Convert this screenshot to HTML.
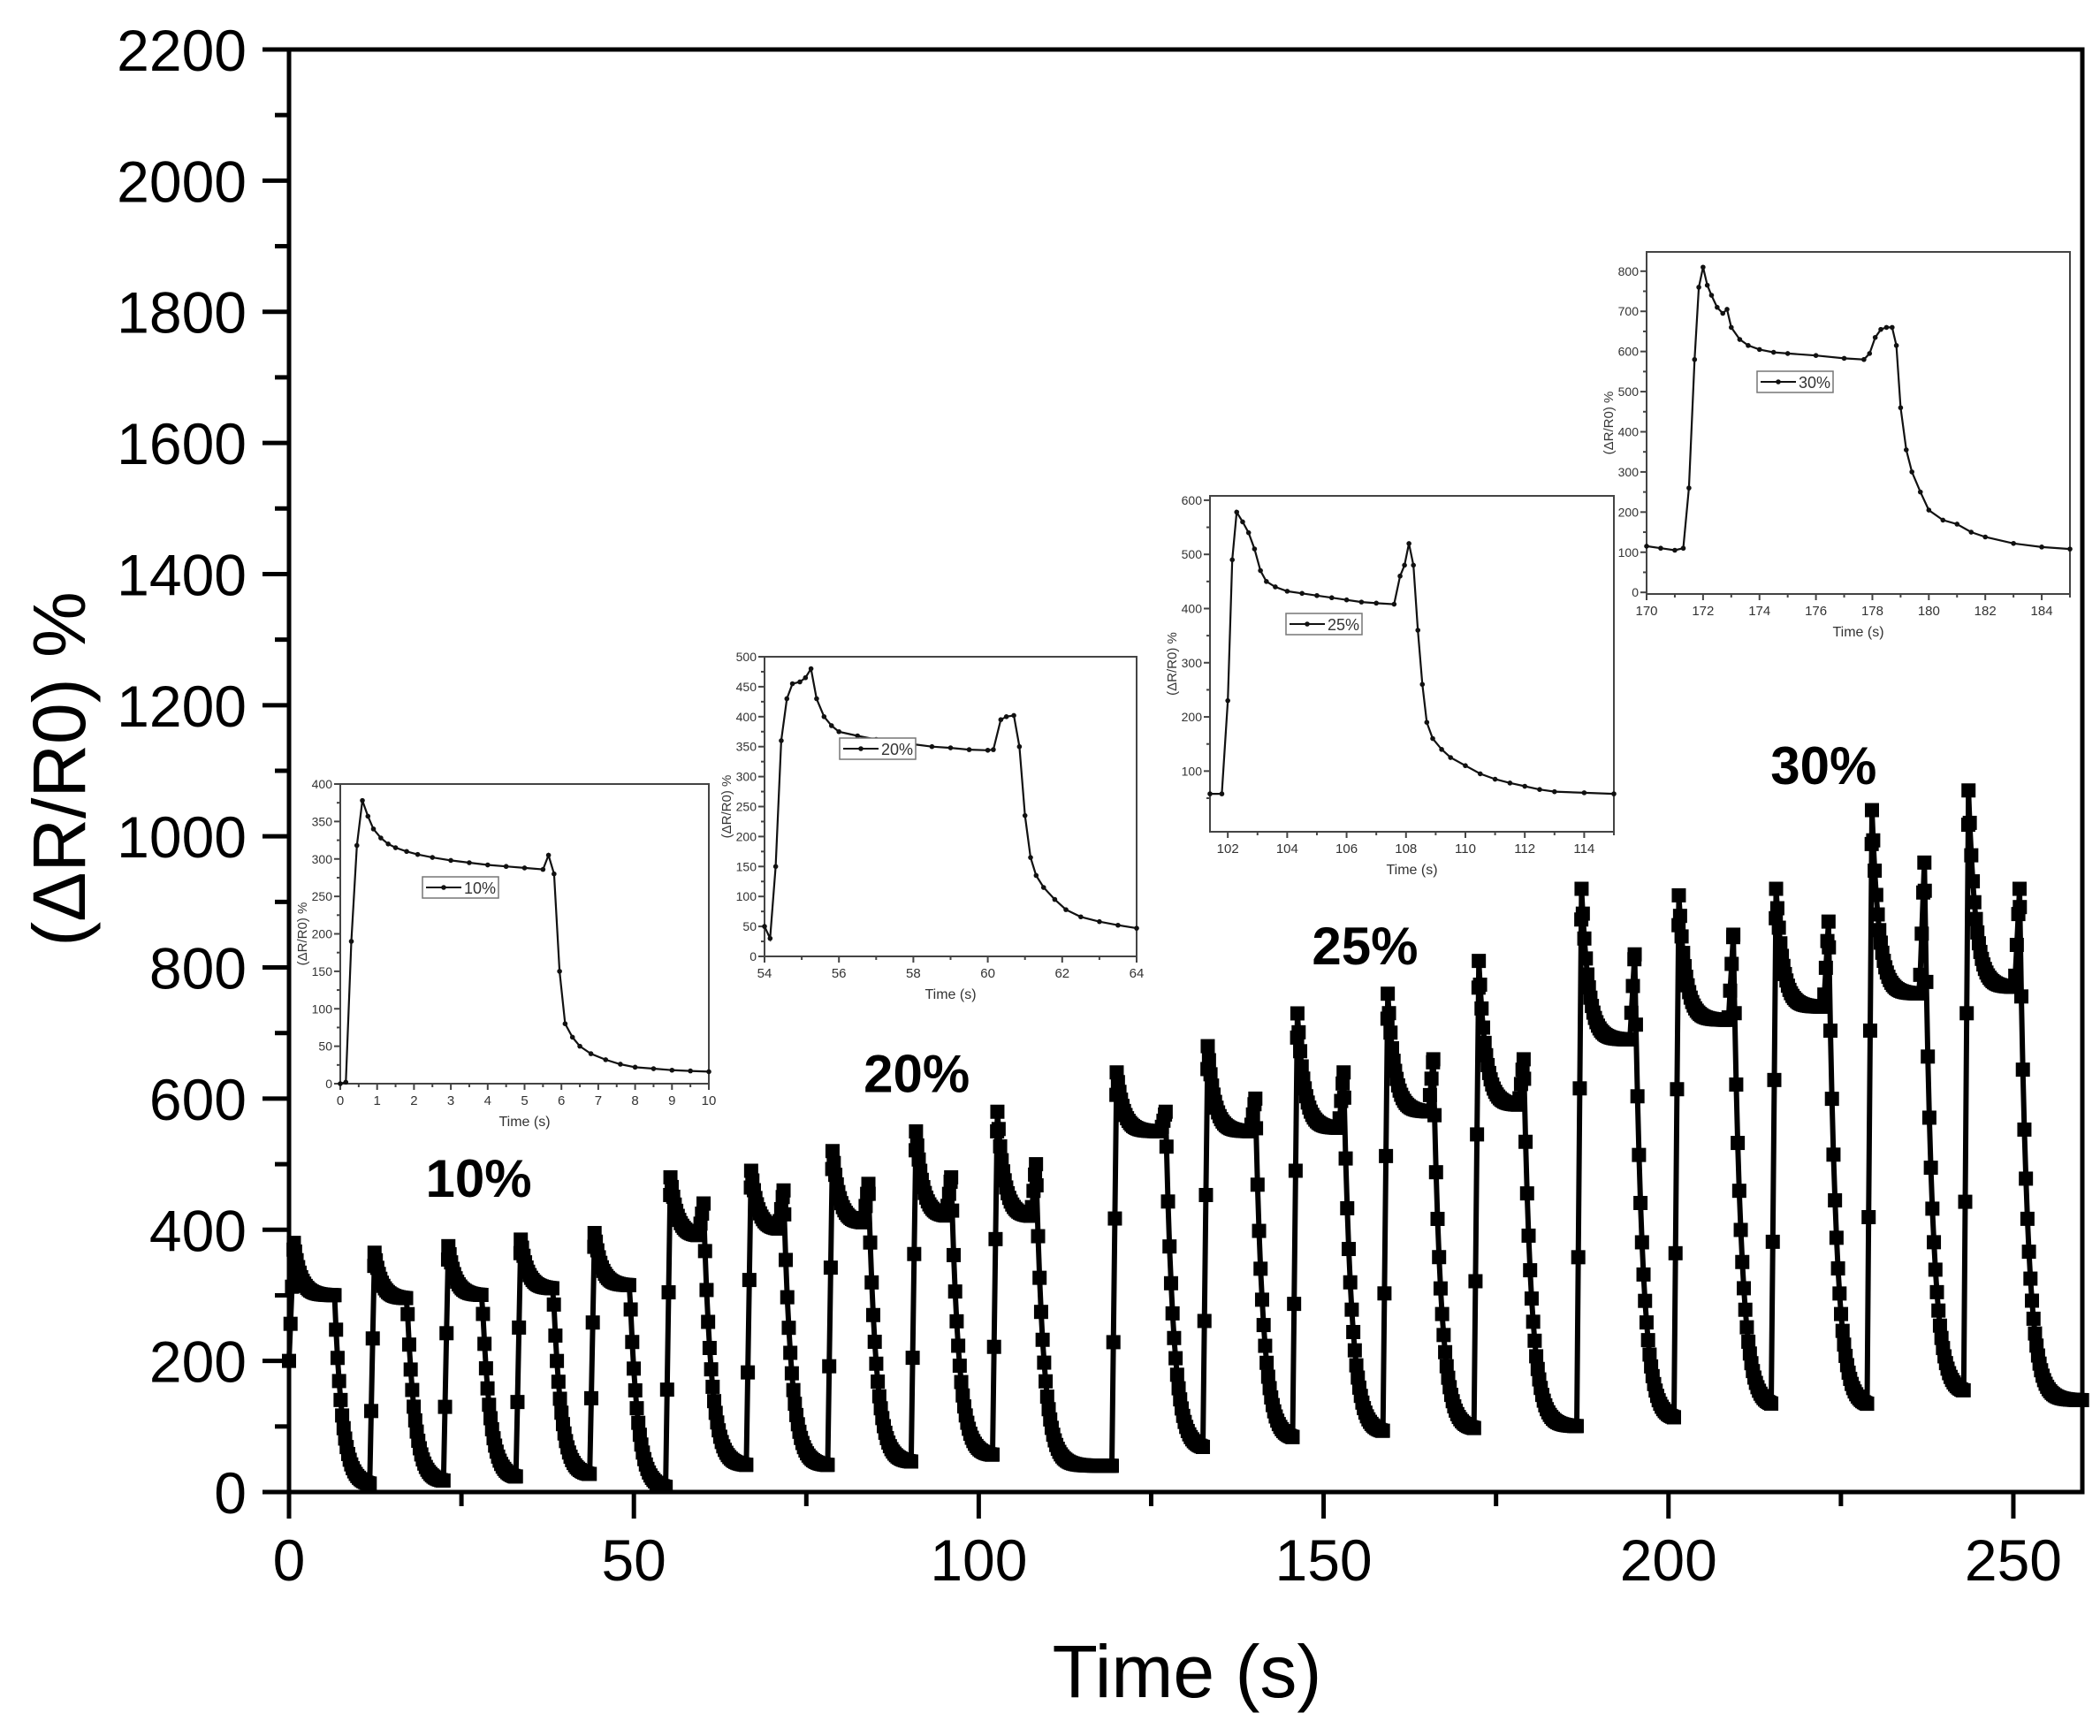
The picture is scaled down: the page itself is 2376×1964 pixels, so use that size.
<!DOCTYPE html>
<html><head><meta charset="utf-8"><style>
html,body{margin:0;padding:0;background:#fff}
svg{display:block;font-family:"Liberation Sans",Arial,sans-serif}
</style></head><body>
<svg id="c" width="2376" height="1964" viewBox="0 0 2376 1964" xmlns="http://www.w3.org/2000/svg"></svg>
<script>
// ---- main chart data (one entry per on/off cycle) ----
const riseT = [0,11.7,22.4,32.9,43.6, 54.6,66.3,78.1,90.2,102.0, 119.3,132.5,145.5,158.6,171.8, 186.7,200.8,214.9,228.8,242.8];
const dropT = [6.6,17.1,28.0,38.3,49.4, 60.1,71.7,84.0,96.0,108.3, 127.1,140.1,152.9,165.9,179.0, 195.1,209.4,223.2,237.1,250.9];
const peakV = [380,365,375,385,395, 480,490,520,550,580, 640,680,730,760,810, 920,910,920,1040,1070];
const platV = [300,295,300,310,315, 390,400,410,420,420, 550,550,555,580,590, 690,720,740,760,770];
const bumpV = [0,0,0,0,0, 440,460,470,480,500, 580,600,640,660,660, 820,850,870,960,920];
const baseV = [10,15,20,25,5, 40,40,45,55,40, 65,80,90,95,100, 110,130,130,150,140];
const xTicks = [0,50,100,150,200,250];
const yTicks = [0,200,400,600,800,1000,1200,1400,1600,1800,2000,2200];
const groupLabels = ["10%","20%","25%","30%"];
const groupLabelT = [27.5,91,156,222.5];
const groupLabelV = [450,610,805,1080];
// ---- inset data ----
const in1T=[0,0.15,0.3,0.45,0.6,0.75,0.9,1.1,1.3,1.5,1.8,2.1,2.5,3,3.5,4,4.5,5,5.5,5.65,5.8,5.95,6.1,6.3,6.5,6.8,7.2,7.6,8,8.5,9,9.5,10];
const in1V=[0,2,190,318,378,357,340,328,320,315,310,306,302,298,295,292,290,288,286,305,280,150,80,62,50,40,32,26,22,20,18,17,16];
const in2T=[54,54.15,54.3,54.45,54.6,54.75,54.95,55.1,55.25,55.4,55.6,55.8,56,56.5,57,57.5,58,58.5,59,59.5,60,60.15,60.35,60.5,60.7,60.85,61.0,61.15,61.3,61.5,61.8,62.1,62.5,63,63.5,64];
const in2V=[50,30,150,360,430,455,458,465,480,430,400,385,375,368,362,358,354,350,348,345,344,345,395,400,402,350,235,165,135,115,95,78,66,58,52,47];
const in3T=[101.4,101.8,102,102.15,102.3,102.5,102.7,102.9,103.1,103.3,103.6,104,104.5,105,105.5,106,106.5,107,107.6,107.8,107.95,108.1,108.25,108.4,108.55,108.7,108.9,109.2,109.5,110,110.5,111,111.5,112,112.5,113,114,115];
const in3V=[58,58,230,490,578,560,540,510,470,450,440,432,428,424,420,416,412,410,408,460,480,520,480,360,260,190,160,140,125,110,95,85,78,72,66,62,60,58];
const in4T=[170,170.5,171,171.3,171.5,171.7,171.85,172,172.15,172.3,172.5,172.7,172.85,173,173.3,173.6,174,174.5,175,176,177,177.7,177.9,178.1,178.3,178.5,178.7,178.85,179,179.2,179.4,179.7,180,180.5,181,181.5,182,183,184,185];
const in4V=[115,110,105,110,260,580,760,810,765,740,710,695,705,660,630,615,605,598,595,590,583,580,595,635,655,660,660,615,460,355,300,250,205,180,170,150,138,122,113,108];

const svg=document.getElementById('c');
const NS='http://www.w3.org/2000/svg';
function el(tag,attrs,parent){const e=document.createElementNS(NS,tag);for(const k in attrs)e.setAttribute(k,attrs[k]);(parent||svg).appendChild(e);return e;}

const X0=327,X1=2356,Y0=1688,Y1=56, XMAX=260, YMAX=2200;
const sx=t=>X0+(t/XMAX)*(X1-X0);
const sy=v=>Y0-(v/YMAX)*(Y0-Y1);

// build series points from cycle arrays
const pts=[];
let prev=200;
for(let i=0;i<riseT.length;i++){
  const r=riseT[i], d=dropT[i];
  const end=(i+1<riseT.length)?riseT[i+1]:XMAX;
  let vDrop=platV[i];
  const ts=[];
  for(let t=r;t<end;t+=0.22)ts.push(t);
  ts.push(r+0.7); if(bumpV[i]>0)ts.push(d);
  ts.sort((a,b)=>a-b);
  for(const t of ts){
    let v;
    if(t<r+0.7){v=prev+(peakV[i]-prev)*((t-r)/0.7);}
    else if(t<=d){
      v=platV[i]+(peakV[i]-platV[i])*Math.exp(-(t-r-0.7)/1.0);
      if(bumpV[i]>0&&t>d-0.7){v=v+(bumpV[i]-v)*((t-(d-0.7))/0.7);}
      vDrop=v;
    } else {
      v=baseV[i]+(vDrop-baseV[i])*Math.exp(-(t-d)/1.1);
    }
    pts.push([t,v]);
  }
  prev=pts[pts.length-1][1];
}
const g=el('g',{});


el('polyline',{points:pts.map(p=>sx(p[0]).toFixed(1)+','+sy(p[1]).toFixed(1)).join(' '),fill:'none',stroke:'#000','stroke-width':6},g);
pts.forEach(p=>{const s=el('rect',{x:sx(p[0])-8,y:sy(p[1])-8,width:16,height:16,fill:'#000'},g);

});

const fr=el('rect',{x:X0,y:Y1,width:X1-X0,height:Y0-Y1,fill:'none',stroke:'#000','stroke-width':5});


xTicks.forEach(t=>{el('line',{x1:sx(t),x2:sx(t),y1:Y0,y2:Y0+30,stroke:'#000','stroke-width':5});
 const tx=el('text',{x:sx(t),y:Y0+100,'font-size':66,'text-anchor':'middle'});tx.textContent=t;
 
 
 if(t+25<XMAX)el('line',{x1:sx(t+25),x2:sx(t+25),y1:Y0,y2:Y0+16,stroke:'#000','stroke-width':5});});
yTicks.forEach(v=>{el('line',{x1:X0-30,x2:X0,y1:sy(v),y2:sy(v),stroke:'#000','stroke-width':5});
 const tx=el('text',{x:X0-48,y:sy(v)+24,'font-size':66,'text-anchor':'end'});tx.textContent=v;
 
 
 if(v+100<YMAX)el('line',{x1:X0-16,x2:X0,y1:sy(v+100),y2:sy(v+100),stroke:'#000','stroke-width':5});});
let t1=el('text',{x:1343,y:1920,'font-size':84,'text-anchor':'middle'});t1.textContent='Time (s)';


let t2=el('text',{x:0,y:0,'font-size':84,'text-anchor':'middle',transform:'translate(96,870) rotate(-90)'});t2.textContent='(ΔR/R0) %';


groupLabels.forEach((s,i)=>{const tx=el('text',{x:sx(groupLabelT[i]),y:sy(groupLabelV[i]),'font-size':60,'font-weight':'bold','text-anchor':'middle'});tx.textContent=s;
 
 });

function inset(name,T,V,bx0,bx1,by0,by1,xmin,xmax,ymin,ymax,xt,xminor,yt,yminor,label,lx,ly){
  const ig=el('g',{});
  
  
  const ix=t=>bx0+(t-xmin)/(xmax-xmin)*(bx1-bx0);
  const iy=v=>by1-(v-ymin)/(ymax-ymin)*(by1-by0);
  el('rect',{x:bx0,y:by0,width:bx1-bx0,height:by1-by0,fill:'#fff',stroke:'#444','stroke-width':2},ig);
  xt.forEach(t=>{el('line',{x1:ix(t),x2:ix(t),y1:by1,y2:by1+7,stroke:'#444','stroke-width':2},ig);
    const tx=el('text',{x:ix(t),y:by1+24,'font-size':15,'text-anchor':'middle',fill:'#333'},ig);tx.textContent=t;});
  xminor.forEach(t=>el('line',{x1:ix(t),x2:ix(t),y1:by1,y2:by1+4,stroke:'#444','stroke-width':2},ig));
  yt.forEach(v=>{el('line',{x1:bx0-7,x2:bx0,y1:iy(v),y2:iy(v),stroke:'#444','stroke-width':2},ig);
    const tx=el('text',{x:bx0-9,y:iy(v)+5,'font-size':14,'text-anchor':'end',fill:'#333'},ig);tx.textContent=v;});
  yminor.forEach(v=>el('line',{x1:bx0-4,x2:bx0,y1:iy(v),y2:iy(v),stroke:'#444','stroke-width':2},ig));
  const a=el('text',{x:(bx0+bx1)/2,y:by1+48,'font-size':16,'text-anchor':'middle',fill:'#333'},ig);a.textContent='Time (s)';
  const b=el('text',{x:0,y:0,'font-size':15,'text-anchor':'middle',fill:'#333',transform:`translate(${bx0-38},${(by0+by1)/2}) rotate(-90)`},ig);b.textContent='(ΔR/R0) %';
  el('polyline',{points:T.map((t,i)=>ix(t).toFixed(1)+','+iy(V[i]).toFixed(1)).join(' '),fill:'none',stroke:'#111','stroke-width':2.2},ig);
  T.forEach((t,i)=>el('circle',{cx:ix(t),cy:iy(V[i]),r:2.8,fill:'#111'},ig));
  const lg=el('g',{},ig);
  
  
  el('rect',{x:lx,y:ly,width:86,height:24,fill:'#fff',stroke:'#777','stroke-width':1.5},lg);
  el('line',{x1:lx+4,x2:lx+44,y1:ly+12,y2:ly+12,stroke:'#111','stroke-width':2},lg);
  el('circle',{cx:lx+24,cy:ly+12,r:2.8,fill:'#111'},lg);
  const lt=el('text',{x:lx+47,y:ly+19,'font-size':18,fill:'#333'},lg);lt.textContent=label;
}
const r=(a,b,s)=>{const o=[];for(let v=a;v<=b+1e-9;v+=s)o.push(+v.toFixed(2));return o;};
inset('inset-10',in1T,in1V,385,802,887,1226,0,10,0,400,r(0,10,1),r(0.5,9.5,1),r(0,400,50),r(25,375,50),'10%',478,992);
inset('inset-20',in2T,in2V,865,1286,743,1082,54,64,0,500,r(54,64,2),r(55,63,2),r(0,500,50),r(25,475,50),'20%',950,835);
inset('inset-25',in3T,in3V,1369,1826,561,941,101.4,115,-12,608,r(102,114,2),r(103,115,2),r(100,600,100),r(50,550,100),'25%',1455,694);
inset('inset-30',in4T,in4V,1863,2342,285,672,170,185,-4,848,r(170,184,2),r(171,185,2),r(0,800,100),r(50,750,100),'30%',1988,420);
</script>
</body></html>
